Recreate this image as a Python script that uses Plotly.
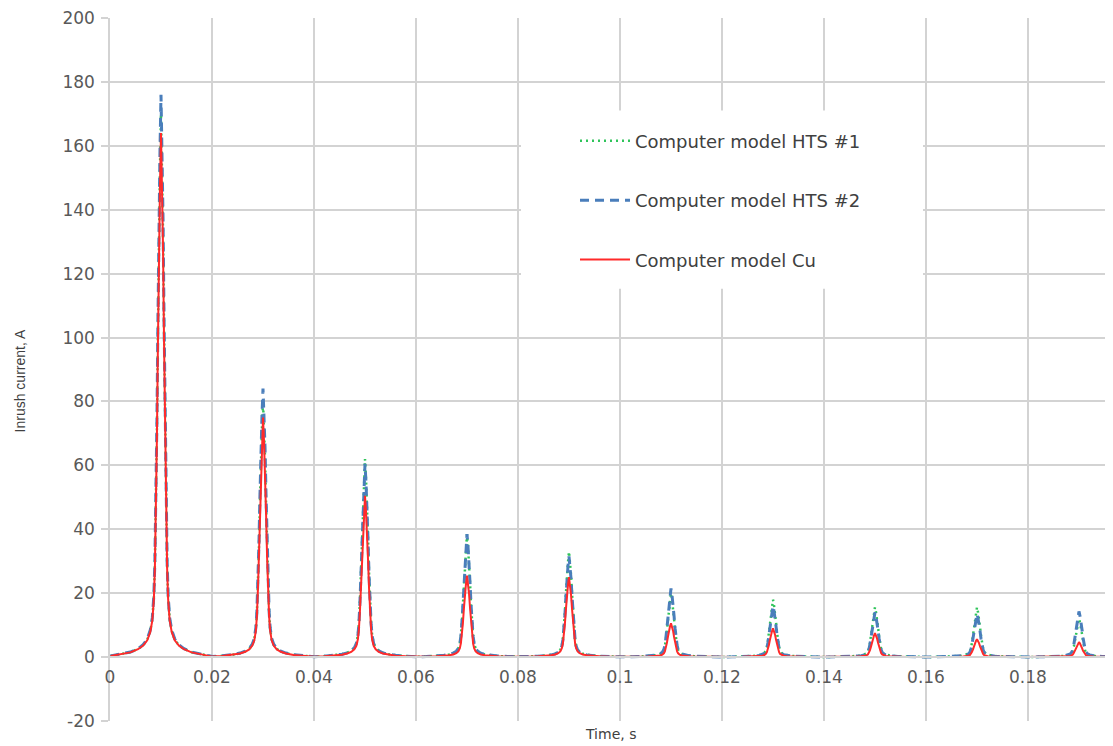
import plotly.graph_objects as go

# --- data ---
peak_times = [0.01, 0.03, 0.05, 0.07, 0.09, 0.11, 0.13, 0.15, 0.17, 0.19]
peaks_hts1 = [170, 80, 62, 38.5, 33, 20, 18, 15.6, 15.6, 12]
peaks_hts2 = [176, 84, 60.5, 38.5, 31.5, 21.5, 16, 14, 13.5, 14.3]
peaks_cu = [164, 75, 50.5, 25.5, 25, 10.6, 9, 7.5, 5.6, 4.7]

# pulse profile around each peak (time offset in s, fraction of the peak value)
pulse_dt = [0.0, 0.0002, 0.0004, 0.0006, 0.0008, 0.001, 0.0012, 0.0014, 0.0017,
            0.0021, 0.0027, 0.0035, 0.0045, 0.006, 0.008, 0.0099]
pulse_rel = [1.0, 0.9, 0.78, 0.6, 0.42, 0.28, 0.17, 0.11, 0.07,
             0.048, 0.032, 0.022, 0.015, 0.009, 0.005, 0.002]

y_ticks = [-20, 0, 20, 40, 60, 80, 100, 120, 140, 160, 180, 200]
y_tick_text = ["-20", "0", "20", "40", "60", "80", "100", "120", "140", "160", "180", "200"]
x_ticks = [0, 0.02, 0.04, 0.06, 0.08, 0.1, 0.12, 0.14, 0.16, 0.18]
x_tick_text = ["0", "0.02", "0.04", "0.06", "0.08", "0.1", "0.12", "0.14", "0.16", "0.18"]

series_names = ["Computer model HTS #1", "Computer model HTS #2", "Computer model Cu"]


def build(peaks):
    ts, vs = [], []
    offs = [-d for d in reversed(pulse_dt[1:])] + pulse_dt
    rels = list(reversed(pulse_rel[1:])) + pulse_rel
    for tp, pk in zip(peak_times, peaks):
        for d, r in zip(offs, rels):
            ts.append(tp + d)
            vs.append(pk * r)
    return ts, vs


fig = go.Figure()
styles = [
    dict(color="#2fc45a", width=2.5, dash="2px,4px"),
    dict(color="#4a7ebb", width=3, dash="9px,6px"),
    dict(color="#ff2a2a", width=2, dash="solid"),
]
for i, (name, peaks, st) in enumerate(zip(series_names, [peaks_hts1, peaks_hts2, peaks_cu], styles)):
    t, v = build(peaks)
    fig.add_trace(go.Scatter(x=t, y=v, mode="lines", name=name, line=st,
                             legendgroup=f"g{i}"))

# page body adds an 8px offset; compensate so the plot lands where the reference has it
OFF = 8
W, H = 1113 - OFF, 746 - OFF
PL, PT, PR, PB = 110, 15, 1113, 721  # plot-area edges in screen pixels
L, T = PL - OFF, PT - OFF
R, B = W - (PR - OFF), H - (PB - OFF)
pw, ph = PR - PL, PB - PT


def px_x(x):
    return (x - PL) / pw


def px_y(y):
    return 1 - (y - PT) / ph


grid = "#d3d3d3"
tickfont = dict(family="DejaVu Sans", size=17, color="#595959")
fig.update_layout(
    width=W, height=H,
    margin=dict(l=L, r=R, t=T, b=B, pad=0),
    paper_bgcolor="white", plot_bgcolor="white",
    showlegend=True,
    legend=dict(x=px_x(575), y=px_y(120), xanchor="left", yanchor="top",
                bgcolor="white", borderwidth=0, itemwidth=50, tracegroupgap=33,
                font=dict(family="DejaVu Sans", size=18, color="#404040")),
    xaxis=dict(range=[0, 0.19667], tickmode="array", tickvals=x_ticks, ticktext=x_tick_text,
               showgrid=True, gridcolor=grid, gridwidth=1.5, zeroline=False,
               showline=True, linecolor=grid, linewidth=1.5, ticks="",
               anchor="free", position=20 / 220, tickfont=tickfont,
               ticklabelstandoff=5, ticklabeloverflow="allow"),
    yaxis=dict(range=[-20, 200], tickmode="array", tickvals=y_ticks, ticktext=y_tick_text,
               showgrid=True, gridcolor=grid, gridwidth=1.5, zeroline=False,
               showline=True, linecolor=grid, linewidth=1.5,
               ticks="outside", ticklen=7, tickcolor=grid, tickwidth=1.5,
               tickfont=tickfont, ticklabelstandoff=3, ticklabeloverflow="allow"),
    shapes=[dict(type="rect", xref="paper", yref="paper",
                 x0=px_x(521), x1=px_x(923), y0=px_y(287), y1=px_y(108),
                 fillcolor="white", line=dict(width=0), layer="above")],
    annotations=[
        dict(text="Inrush current, A", xref="paper", yref="paper",
             x=px_x(20), y=px_y(380), xanchor="center", yanchor="middle",
             textangle=-90, showarrow=False,
             font=dict(family="Liberation Sans Narrow, Arial Narrow, sans-serif", size=14, color="#404040")),
        dict(text="Time, s", xref="paper", yref="paper",
             x=px_x(610), y=px_y(734), xanchor="center", yanchor="middle",
             showarrow=False,
             font=dict(family="DejaVu Sans", size=14, color="#404040")),
    ],
)

fig.write_html("out.html")
